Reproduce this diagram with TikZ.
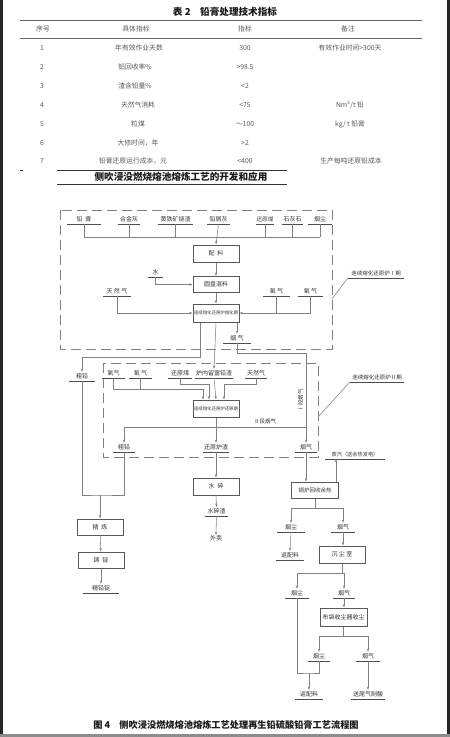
\documentclass[tikz,border=0pt]{standalone}
\usepackage{fontspec}
\setmainfont{Noto Sans CJK SC}
\usetikzlibrary{arrows.meta,calc}
\newcommand{\fs}[1]{\fontsize{#1}{#1}\selectfont}
\newcommand{\ulab}[5]{\node[ul,minimum width=#3pt,#5] (#1) at (#2) {#4};\draw[uline] (#1.south west) -- (#1.south east);}
\begin{document}
\begin{tikzpicture}[x=1pt,y=-1pt,
  tt/.style={font=\fs{6.8},text=black!65,inner sep=0},
  lbl/.style={font=\fs{6},text=black!80,inner sep=0},
  ul/.style={lbl,inner xsep=0pt,inner ysep=1.6pt,anchor=south},
  uline/.style={draw=black!70,line width=0.9pt},
  box/.style={draw=black!65,line width=1pt,minimum width=46pt,minimum height=17pt,inner sep=0pt,font=\fs{6},text=black!80,fill=white},
  conn/.style={draw=black!50,line width=0.55pt},
  arr/.style={conn,-{Stealth[length=3.5pt,width=2.4pt]}},
  dsh/.style={draw=black!50,line width=0.8pt,dash pattern=on 10pt off 5pt},
  rule/.style={draw=black!60,line width=0.7pt}]
\useasboundingbox (0,0) rectangle (450,737);
\fill[white] (0,0) rectangle (450,737);
% frame strips
\fill[black!85] (0,0) rectangle (2.5,733.5);
\fill[black!85] (447,0) rectangle (450,733.5);
\fill[black!45] (0,733.5) rectangle (450,737);

% ---------------- table ----------------
\node[font=\fs{9.6}\bfseries,text=black!90,inner sep=0] (t2) at (225,12) {表 2\quad 铅膏处理技术指标};
\draw[rule] (20,20) -- (422,20);
\draw[rule] (20,38) -- (422,38);
\node[tt] (h1) at (43,29) {序号};
\node[tt] (h2) at (136,29) {具体指标};
\node[tt] (h3) at (245,29) {指标};
\node[tt] (h4) at (348,29) {备注};
\node[tt] (r1a) at (42,48) {1};
\node[tt] (r1b) at (139,48) {年有效作业天数};
\node[tt] (r1c) at (245,48) {300};
\node[tt] (r1d) at (350,48) {有效作业时间>300天};
\node[tt] (r2a) at (42,67) {2};
\node[tt] (r2b) at (135,67) {铅回收率\%};
\node[tt] (r2c) at (245,67) {>98.5};
\node[tt] (r3a) at (42,86) {3};
\node[tt] (r3b) at (135,86) {渣含铅量\%};
\node[tt] (r3c) at (245,86) {<2};
\node[tt] (r4a) at (42,105) {4};
\node[tt] (r4b) at (138,105) {天然气消耗};
\node[tt] (r4c) at (245,105) {<75};
\node[tt] (r4d) at (350,105) {Nm\textsuperscript{3}/t 铅};
\node[tt] (r5a) at (42,124) {5};
\node[tt] (r5b) at (138,124) {粒煤};
\node[tt] (r5c) at (245,124) {～100};
\node[tt] (r5d) at (350,124) {kg/ t 铅膏};
\node[tt] (r6a) at (42,143) {6};
\node[tt] (r6b) at (138,143) {大修时间，年};
\node[tt] (r6c) at (245,143) {>2};
\node[tt] (r7a) at (42,161) {7};
\node[tt] (r7b) at (133,161) {铅膏还原运行成本，元};
\node[tt] (r7c) at (245,161) {<400};
\node[tt] (r7d) at (351,161) {生产每吨还原铅成本};

% ---------------- subtitle ----------------
\draw[draw=black!80,line width=0.8pt] (20,170) -- (23,170);
\draw[draw=black!80,line width=0.9pt] (57,170) -- (287,170);
\draw[draw=black!80,line width=0.9pt] (57,184) -- (287,184);
\node[font=\fs{9.6}\bfseries,text=black!90,inner sep=0] (sub) at (181,177) {侧吹浸没燃烧熔池熔炼工艺的开发和应用};

% ---------------- dashed zones ----------------
\draw[dsh] (60,210) rectangle (332,349);
\draw[dsh] (103,363) rectangle (318,457);

% ---------------- boxes ----------------
\node[box] (pl) at (216,253.5) {配\ \ 料};
\node[box,minimum height=16pt] (hl) at (216,284.5) {圆盘混料};
\node[box,minimum height=18pt,font=\fs{4.4}] (k1) at (216,313) {连续熔化还原炉熔化期};
\node[box,font=\fs{4.4}] (k2) at (216,408.5) {连续熔化还原炉还原期};
\node[box] (sc) at (216,486.5) {水\ \ 碎};
\node[box,minimum height=16pt] (jl) at (100,527) {精\ \ 炼};
\node[box,minimum height=16pt] (zd) at (101,560) {铸\ \ 锭};
\node[box,minimum width=47pt,minimum height=16pt,font=\fs{5.5}] (gl) at (315,490) {锅炉回收余热};
\node[box] (cc) at (342,554.5) {沉\ 尘\ 室};
\node[box,minimum width=47pt,minimum height=18pt] (bd) at (343.5,617) {布袋收尘器收尘};

% ---------------- labels ----------------
\ulab{qg}{84,224}{34}{铅\ \ 膏}{}
\ulab{hjh}{129,224}{22}{合金灰}{}
\ulab{hty}{175.5,224}{35}{黄铁矿烧渣}{}
\ulab{qxh}{218.5,224}{23}{铅屑灰}{}
\ulab{hym}{265,224}{18}{还原煤}{font=\fs{5.6}}
\ulab{shs}{292.5,224}{21}{石灰石}{}
\ulab{yc}{320,224}{24}{烟尘}{}
\ulab{water}{155.5,277}{15}{水}{}
\ulab{trq1}{117,296}{27}{天\ 然\ 气}{}
\ulab{o1}{276.5,296}{26}{氧\ 气}{}
\ulab{o2}{310.5,296}{25}{氧\ 气}{}
\ulab{yq1}{237,343}{28}{烟\ 气}{}
\ulab{cq1}{82,381}{25}{粗铅}{}
\ulab{o3}{113.5,378}{23}{氧气}{}
\ulab{o4}{140.5,378}{23}{氧\ 气}{}
\ulab{hym2}{180,378}{24}{还原煤}{}
\ulab{lnfq}{214,378}{37}{炉内留富铅渣}{}
\ulab{trq2}{256,378}{22}{天然气}{}
\ulab{cq2}{124,452}{22}{粗铅}{}
\ulab{hylz}{216,452}{26}{还原炉渣}{}
\ulab{yq2}{306,452}{22}{烟气}{}
\ulab{zq}{355,459}{60}{蒸汽（送余热发电）}{font=\fs{5.2}}
\ulab{scz}{216.5,516}{23}{水碎渣}{}
\node[lbl] (wm) at (216,538) {外卖};
\ulab{jqd}{101,593}{35}{精铅锭}{}
\ulab{yc2}{291,532}{27}{烟尘}{}
\ulab{yq3}{343,532}{24}{烟气}{}
\ulab{fpl1}{290,560}{28}{返配料}{}
\ulab{yc3}{297,598}{23}{烟尘}{}
\ulab{yq4}{344,598}{22}{烟气}{}
\ulab{yc4}{319,661}{22}{烟尘}{}
\ulab{yq5}{368,661}{23}{烟气}{}
\ulab{fpl2}{309,699}{27}{返配料}{}
\ulab{swq}{368,699}{34}{送尾气制酸}{}
\ulab{l1}{376,278}{56}{连续熔化还原炉Ⅰ期}{font=\fs{5.5}}
\ulab{l2}{377,382}{54}{连续熔化还原炉Ⅱ期}{font=\fs{5.5}}
\node[lbl,font=\fs{5.5}] (s2) at (265,421) {Ⅱ段烟气};
\node[lbl,font=\fs{5.5},rotate=90] (s1) at (300.5,400) {Ⅰ段烟气};

% ---------------- connectors ----------------
\coordinate (bus) at (0,237);
\foreach \n in {qg,hjh,hty,hym,shs,yc} \draw[conn] (\n.south) -- (\n.south |- bus);
\draw[conn] (qg.south |- bus) -- (yc.south |- bus);
\draw[arr] (qxh.south) -- (pl.north);
\draw[arr] (pl) -- (hl);
\draw[arr] (hl) -- (k1);
\draw[arr] (water.south) |- (hl.west);
\draw[arr] (trq1.south) |- (k1.west);
\draw[arr] (o2.south) |- (k1.east);
\draw[conn] (o1.south) -- (o1.south |- k1.east);
\draw[arr] (k1.south -| yq1.south) -- (yq1.north);
\draw[arr] ([xshift=-16pt]k1.south) -- ++(0,35) -| (cq1.north);
\draw[arr] (k1.south) -- (lnfq.north);
\draw[arr] (yq1.south) -- ++(0,10) -| (yq2.north);
\draw[arr] (o3.south) -- ++(0,11) -| ([xshift=-13pt]k2.north);
\draw[conn] (o4.south) -- ++(0,11);
\draw[arr] (hym2.south) -- ++(0,6) -| ([xshift=-7pt]k2.north);
\draw[arr] (trq2.south) -- ++(0,6) -| ([xshift=8pt]k2.north);
\draw[arr] (lnfq.south) -- (k2.north);
\draw[arr] (k2.south) -- (hylz.north);
\coordinate (h2) at (216,427);
\draw[arr] (h2) -| (cq2.north);
\draw[conn] (h2) -- (h2 -| yq2.north);
\coordinate (m) at (100,495);
\draw[conn] (cq1.south) |- (m) -| (cq2.south);
\draw[arr] (m) -- (jl.north);
\draw[arr] (jl) -- (zd);
\draw[arr] (zd.south) -- (jqd.north);
\draw[arr] (hylz.south) -- (sc.north);
\draw[arr] (sc.south) -- (scz.north);
\draw[arr] (scz.south) -- (wm.north);
\draw[arr] (yq2.south) -- (yq2.south |- gl.north);
\draw[arr] ([xshift=21pt]gl.north) -- ([xshift=21pt]gl.north |- zq.south);
\draw[conn] (gl.south) -- ++(0,10) coordinate (g1);
\draw[arr] (g1) -| (yc2.north);
\draw[arr] (g1) -| (yq3.north);
\draw[arr] (yc2.south) -- (fpl1.north);
\draw[arr] (yq3.south) -- (yq3.south |- cc.north);
\draw[conn] (cc.south) -- ++(0,10) coordinate (g2);
\draw[arr] (g2) -| (yc3.north);
\draw[arr] (g2) -| (yq4.north);
\draw[arr] (yq4.south) -- (yq4.south |- bd.north);
\draw[conn] (bd.south) -- ++(0,10) coordinate (g3);
\draw[arr] (g3) -| (yc4.north);
\draw[arr] (g3) -| (yq5.north);
\coordinate (g4) at (309,673);
\draw[conn] (yc3.south) |- (g4) -| (yc4.south);
\draw[arr] (g4) -- (fpl2.north);
\draw[arr] (yq5.south) -- (swq.north);
\coordinate (d1) at (332,299);
\coordinate (d2) at (318,417);
\draw[conn] (l1.south west) -- (d1);
\draw[conn] (l2.south west) -- (d2);

% ---------------- caption ----------------
\node[font=\fs{9.2}\bfseries,text=black!90,inner sep=0] (cap) at (226,725) {图 4\quad 侧吹浸没燃烧熔池熔炼工艺处理再生铅硫酸铅膏工艺流程图};
\end{tikzpicture}
\end{document}
